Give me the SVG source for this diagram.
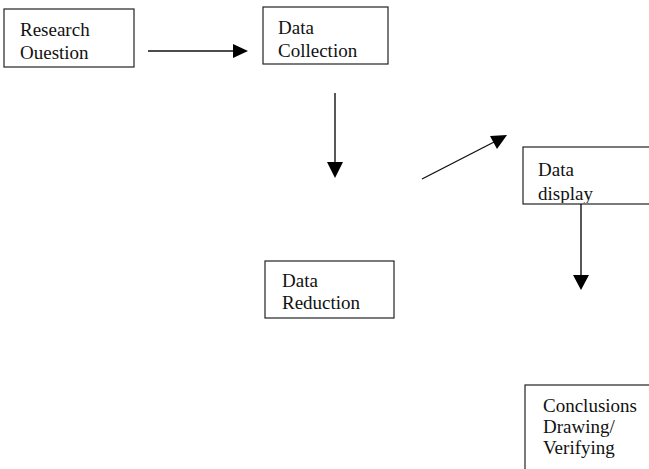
<svg xmlns="http://www.w3.org/2000/svg" width="649" height="469" viewBox="0 0 649 469">
<style>
.box{fill:#fff;stroke:#222;stroke-width:1.2}
.t{font-family:"Liberation Serif","Times New Roman",serif;font-size:19px;fill:#111}
.c{stroke:#111;stroke-width:1.4;fill:none}
.h{fill:#000}
</style>
<defs>
<clipPath id="clipDisplay"><rect x="523" y="147" width="126" height="56"/></clipPath>
</defs>
<rect width="649" height="469" fill="#fff"/>
<g id="research-question">
<rect class="box" x="4" y="9" width="130" height="58"/>
<text class="t" x="20" y="36">Research</text>
<text class="t" x="20" y="59">Ouestion</text>
</g>
<g id="data-collection">
<rect class="box" x="263" y="7" width="125" height="57"/>
<text class="t" x="278" y="34">Data</text>
<text class="t" x="278" y="57">Collection</text>
</g>
<g id="data-reduction">
<rect class="box" x="265" y="261" width="129" height="57"/>
<text class="t" x="282" y="287">Data</text>
<text class="t" x="282" y="309">Reduction</text>
</g>
<g id="data-display">
<rect class="box" x="523" y="147" width="130" height="57"/>
<g clip-path="url(#clipDisplay)">
<text class="t" x="538" y="176">Data</text>
<text class="t" x="538" y="200">display</text>
</g>
</g>
<g id="conclusions">
<rect class="box" x="525" y="385" width="130" height="90"/>
<text class="t" x="543" y="412">Conclusions</text>
<text class="t" x="543" y="433">Drawing/</text>
<text class="t" x="543" y="454">Verifying</text>
</g>
<g id="connectors">
<line class="c" x1="148" y1="51" x2="234" y2="51"/>
<polygon class="h" points="233,44 248,51 233,58"/>
<line class="c" x1="335" y1="93" x2="335" y2="163"/>
<polygon class="h" points="327,162 343,162 335,178"/>
<line class="c" x1="422" y1="179" x2="496" y2="141"/>
<polygon class="h" points="507,135 490,136 497,149"/>
<line class="c" x1="581" y1="204" x2="581" y2="276"/>
<polygon class="h" points="573,275 589,275 581,290"/>
</g>
</svg>
